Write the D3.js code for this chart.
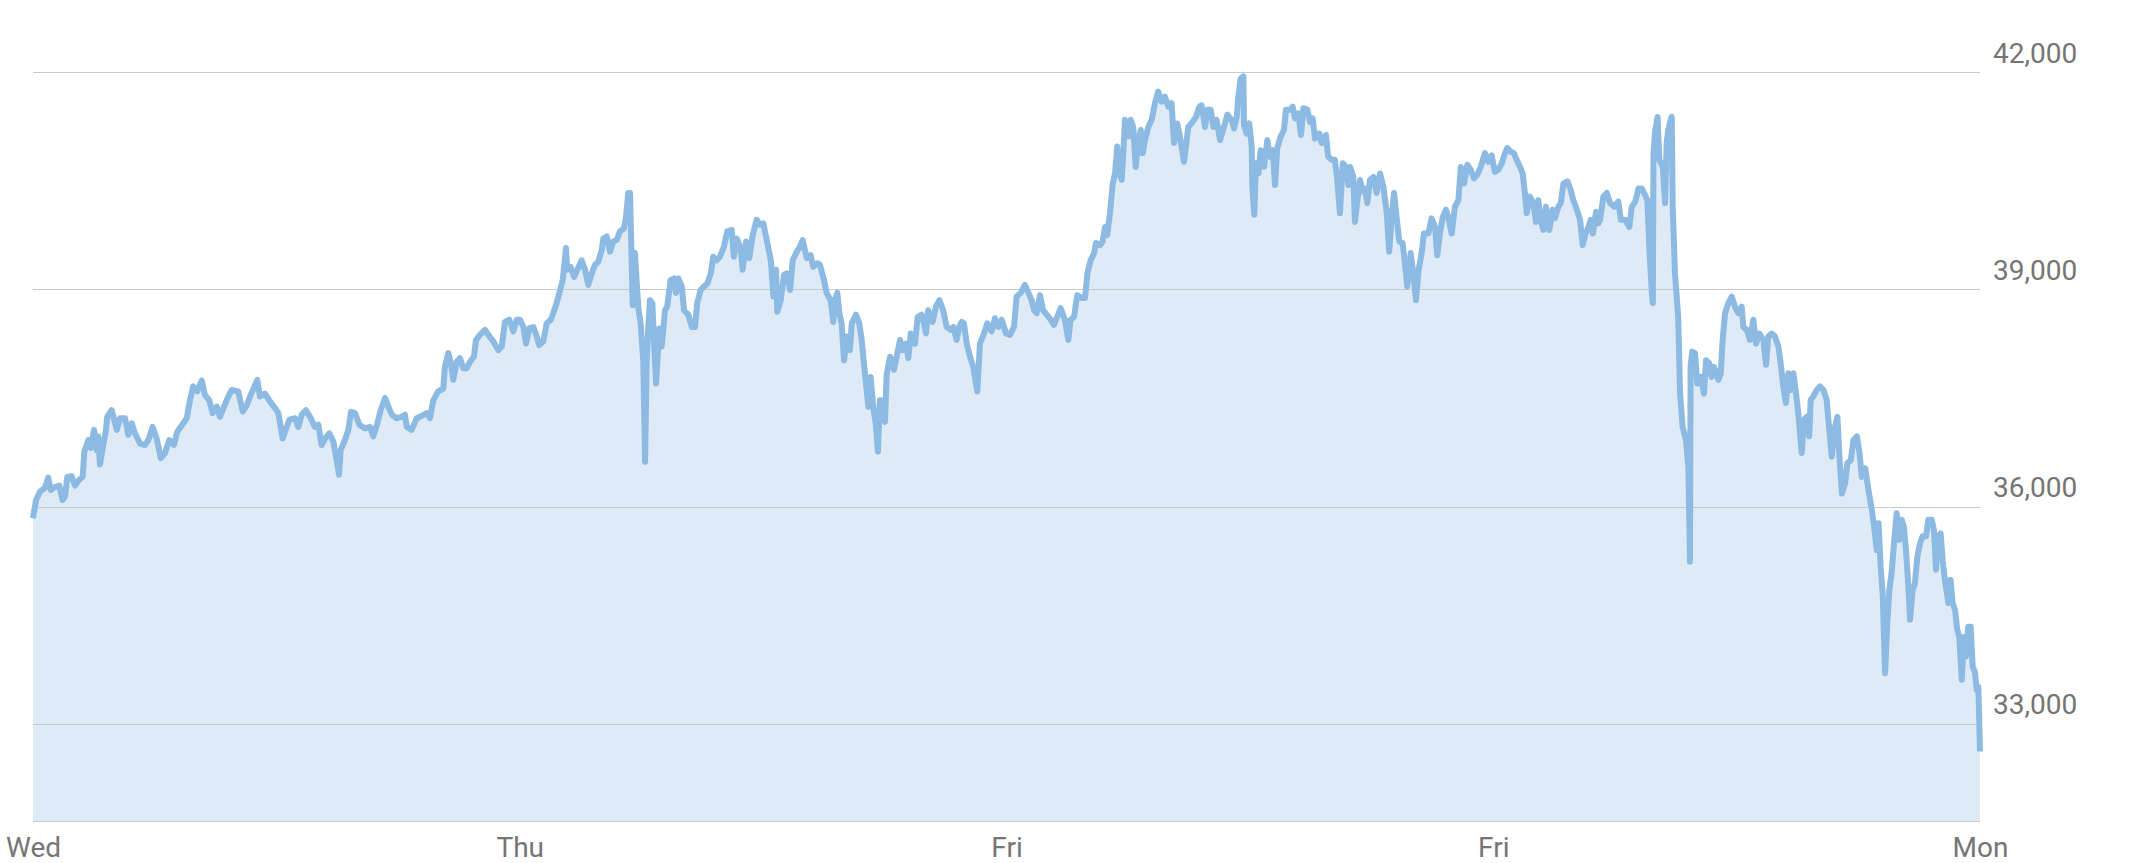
<!DOCTYPE html>
<html>
<head>
<meta charset="utf-8">
<script src="https://cdn.jsdelivr.net/npm/d3@7/dist/d3.min.js"></script>
<style>
  html, body { margin: 0; padding: 0; background: #ffffff; }
  svg { display: block; }
  .tick text { font-family: Roboto, "Noto Sans", sans-serif; }
</style>
</head>
<body>
<svg id="chart" width="2129" height="863"></svg>
<script>
// ---- Data (hours since start of Wed, price) ----
const hours = [
0.00,0.15,0.35,0.59,0.75,0.87,1.08,1.30,1.46,1.58,1.69,1.91,2.07,2.28,2.45,2.53,2.73,2.85,3.01,3.14,3.22,3.30,3.44,3.60,3.66,3.88,4.13,4.29,4.54,4.70,4.87,5.03,5.28,5.52,5.69,5.90,6.10,6.30,6.51,6.72,6.95,7.11,7.41,7.58,7.74,7.90,8.10,8.32,8.48,8.69,8.86,9.06,9.22,9.42,9.63,9.80,10.12,10.34,10.54,10.73,10.95,11.06,11.19,11.44,11.69,11.93,12.10,12.31,12.51,12.64,12.92,13.08,13.25,13.46,13.66,13.90,14.07,14.23,14.40,14.61,14.81,14.97,15.09,15.17,15.38,15.55,15.68,15.88,16.09,16.37,16.62,16.78,16.98,17.14,17.36,17.52,17.69,17.93,18.18,18.34,18.43,18.67,18.92,19.08,
19.41,19.57,19.74,19.98,20.23,20.31,20.48,20.60,20.72,20.89,21.05,21.22,21.38,21.55,21.74,21.84,22.04,22.29,22.45,22.70,22.94,23.11,23.27,23.48,23.68,23.85,24.01,24.18,24.31,24.47,24.67,24.84,24.96,25.16,25.33,25.53,25.65,25.82,25.95,26.12,26.28,26.34,26.51,26.68,26.84,27.05,27.22,27.38,27.55,27.71,27.87,28.04,28.12,28.29,28.45,28.61,28.78,28.94,29.14,29.24,29.35,29.44,29.52,29.57,29.68,29.77,29.85,29.96,30.09,30.18,30.26,30.34,30.42,30.54,30.63,30.72,30.80,30.88,31.00,31.16,31.27,31.44,31.61,31.70,31.82,31.99,32.10,32.31,32.48,32.64,32.75,32.92,33.09,33.25,33.42,33.54,33.71,33.87,34.07,34.23,34.45,34.56,34.70,34.89,34.99,35.16,35.32,35.49,35.68,35.85,36.01,36.18,36.38,36.51,36.64,36.70,36.87,37.03,37.16,37.33,37.46,37.66,37.82,37.95,38.15,38.34,38.47,38.67,38.80,
39.00,39.13,39.33,39.46,39.54,39.66,39.76,39.87,39.99,40.12,40.28,40.37,40.58,40.74,40.86,41.02,41.19,41.30,41.43,41.57,41.66,41.76,41.90,42.01,42.09,42.26,42.45,42.62,42.75,42.88,43.04,43.16,43.28,43.49,43.62,43.82,43.93,44.03,44.14,44.36,44.52,44.69,44.88,45.05,45.25,45.38,45.54,45.67,45.79,45.90,46.04,46.20,46.36,46.56,46.69,46.89,47.05,47.27,47.43,47.60,47.76,47.98,48.17,48.37,48.50,48.70,48.91,49.08,49.24,49.36,49.49,49.65,49.81,49.98,50.18,50.34,50.50,50.67,50.88,51.05,51.16,51.33,51.49,51.71,51.87,51.99,52.15,52.32,52.41,52.61,52.74,52.86,52.97,53.10,53.24,53.35,53.46,53.56,53.68,53.76,53.84,54.01,54.12,54.25,54.37,54.50,54.62,54.72,54.83,54.99,55.16,55.32,55.48,55.65,55.81,55.98,56.14,56.26,56.42,56.55,56.75,56.85,56.96,57.18,57.34,57.51,57.62,57.79,57.90,58.07,58.20,58.36,
58.53,58.72,58.89,59.10,59.22,59.35,59.43,59.55,59.68,59.71,59.84,59.97,60.09,60.12,60.22,60.30,60.42,60.53,60.70,60.86,60.99,61.13,61.24,61.35,61.52,61.68,61.78,61.98,62.11,62.23,62.39,62.52,62.64,62.83,62.97,63.10,63.21,63.42,63.54,63.75,63.86,64.03,64.19,64.31,64.44,64.58,64.74,64.86,64.94,65.10,65.18,65.30,65.43,65.56,65.68,65.79,65.92,66.09,66.25,66.42,66.58,66.75,66.87,66.99,67.11,67.24,67.37,67.53,67.65,67.76,67.93,68.06,68.19,68.32,68.47,68.58,68.80,68.96,69.13,69.24,69.37,69.51,69.67,69.78,69.95,70.11,70.28,70.40,70.56,70.72,70.89,71.05,71.21,71.38,71.59,71.75,71.92,72.08,72.25,72.42,72.58,72.69,72.86,73.02,73.15,73.32,73.45,73.56,73.65,73.81,73.97,74.11,74.22,74.34,74.47,74.60,74.76,74.93,75.04,75.21,75.33,75.46,75.66,75.82,75.95,76.12,76.28,76.41,76.53,76.69,76.81,76.91,77.07,77.18,
77.27,77.43,77.60,77.76,77.96,78.17,78.29,78.50,78.71,78.83,79.00,79.16,79.33,79.49,79.60,79.70,79.82,79.87,79.90,79.98,80.10,80.19,80.36,80.47,80.55,80.63,80.75,80.80,80.85,80.96,81.12,81.21,81.34,81.50,81.62,81.70,81.73,81.81,81.95,82.06,82.23,82.39,82.49,82.65,82.77,82.88,83.10,83.22,83.31,83.43,83.59,83.76,83.92,84.08,84.25,84.33,84.50,84.66,84.82,84.96,85.12,85.32,85.45,85.56,85.73,85.89,86.06,86.17,86.30,86.43,86.55,86.67,86.80,86.93,87.04,87.21,87.32,87.46,87.58,87.65,87.78,87.95,88.11,88.28,88.44,88.57,88.69,88.85,88.97,89.07,89.19,89.35,89.46,89.63,89.76,89.93,90.06,90.17,90.34,
90.50,90.67,90.78,90.91,91.00,91.10,91.20,91.32,91.43,91.53,91.64,91.76,91.89,92.02,92.14,92.25,92.35,92.46,92.55,92.68,92.79,92.91,93.04,93.17,93.34,93.45,93.62,93.73,93.83,93.94,94.06,94.16,94.27,94.44,94.55,94.65,94.77,94.88,94.98,95.10,95.21,95.31,95.42,95.54,95.64,95.75,95.84,95.92,96.00
];
const prices = [
35840,36090,36210,36260,36400,36230,36270,36290,36090,36140,36410,36420,36290,36370,36410,36760,36920,36810,37060,36780,36970,36580,36810,37060,37240,37330,37060,37220,37220,36990,37150,37010,36870,36850,36920,37100,36940,36670,36740,36920,36850,37030,37150,37220,37470,37660,37590,37740,37540,37470,37290,37380,37240,37380,37520,37610,37590,37310,37400,37540,37680,37750,37520,37560,37450,37360,37290,36940,37100,37200,37220,37100,37270,37330,37240,37100,37130,36850,36940,37010,36900,36640,36440,36780,36920,37060,37310,37290,37130,37080,37100,36970,37150,37330,37500,37380,37270,37220,37240,37270,37100,37060,37220,37240,
37290,37220,37470,37590,37630,37930,38120,37980,37750,38000,38050,37910,37910,38000,38070,38300,38370,38440,38370,38280,38160,38210,38550,38580,38420,38580,38580,38480,38250,38460,38480,38350,38230,38280,38530,38580,38670,38810,38950,39130,39570,39270,39310,39170,39270,39400,39270,39060,39220,39340,39380,39540,39700,39730,39520,39660,39680,39800,39840,40000,40330,40330,39360,38780,39500,39080,38740,38530,38020,36620,38020,38480,38850,38810,38210,37700,38070,38460,38210,38710,38760,39130,39150,38950,39150,39040,38710,38650,38480,38480,38810,38990,39040,39080,39220,39450,39400,39450,39590,39800,39820,39450,39700,39570,39270,39660,39430,39750,39960,39890,39910,39680,39400,38900,39270,38690,38850,39200,39220,38990,39400,39520,39590,39680,39430,39470,39310,39360,39340,
39130,38950,38850,38550,38850,38950,38670,38530,38020,38350,38160,38530,38650,38530,38300,37840,37380,37790,37380,37100,36760,37470,37470,37170,37820,38070,37890,38120,38300,38160,38250,38050,38390,38250,38620,38650,38530,38390,38710,38550,38760,38850,38710,38480,38440,38480,38300,38480,38550,38530,38250,38070,37930,37590,38250,38390,38530,38420,38600,38480,38580,38390,38370,38480,38900,38950,39060,38950,38850,38710,38670,38920,38710,38650,38580,38510,38620,38740,38580,38300,38580,38620,38920,38880,38880,39220,39400,39500,39640,39610,39660,39860,39750,40050,40460,40600,40970,40600,40510,40880,41340,41110,41340,41240,40690,41060,41200,40880,41060,41240,41340,41570,41730,41590,41660,41520,41570,41020,41290,41110,40760,40970,41240,41310,41380,41520,41540,41240,41480,41480,41240,41340,
41060,41240,41410,41340,41220,41380,41660,41910,41940,41270,41150,41290,40970,40420,40030,40740,40600,40920,40690,41060,40830,40920,40440,40950,41110,41200,41480,41480,41520,41360,41430,41130,41500,41480,41310,41360,41080,41150,41020,41130,40830,40790,40790,40510,40050,40740,40690,40440,40690,40550,39930,40230,40510,40350,40390,40190,40510,40550,40330,40600,40420,40050,39520,40000,40330,39980,39660,39640,39340,39040,39500,39220,38850,39270,39500,39770,39770,39980,39860,39470,39770,40000,40100,40000,39770,40140,40230,40690,40460,40720,40650,40530,40580,40690,40880,40760,40850,40620,40650,40740,40880,40950,40900,40880,40790,40690,40600,40330,40050,40280,40190,39930,40230,39960,39820,40140,39820,40100,39980,40140,40190,40460,40490,40370,40230,40100,39960,39610,39750,39860,39960,39770,40070,39910,
39960,40280,40330,40190,40140,40210,39960,39960,39860,40140,40210,40390,40390,40300,40230,39540,38950,38810,40880,41180,41380,40790,40690,40190,41020,41200,41340,41380,40140,39220,38620,37560,37100,36920,36550,35240,37930,38140,38120,37700,37790,37560,38020,37980,37790,37930,37750,37840,38300,38670,38810,38900,38760,38670,38760,38480,38440,38300,38580,38250,38390,38300,37960,38350,38390,38350,38210,37980,37660,37430,37840,37610,37840,37560,37290,36740,37200,37240,36970,37470,37520,37610,37660,37610,37470,37060,36690,37100,37240,36690,36180,36320,36600,36640,36920,36970,36740,36410,36530,
36230,35950,35720,35400,35770,35170,34800,33700,34390,34850,35080,35490,35910,35540,35820,35720,35400,34940,34440,34850,34940,35310,35490,35590,35590,35820,35820,35680,35130,35590,35630,35260,34990,34670,34990,34670,34570,34300,34200,33610,34200,33930,34340,34340,33790,33720,33470,33510,32620
];
const yTickValues = [33000, 36000, 39000, 42000];
const xTickHours = [0, 24, 48, 72, 96];
const xTickLabels = ["Wed", "Thu", "Fri", "Fri", "Mon"];

// ---- Layout ----
const svg = d3.select("#chart");
const plotLeft = 33, plotRight = 1980, plotTop = 72, plotBottom = 821;
const yMin = 31660;

const xScale = d3.scaleLinear().domain([0, 96]).range([plotLeft, plotRight]);
const yScale = d3.scaleLinear().domain([yMin, 42000]).range([plotBottom, plotTop]);

const series = hours.map((h, i) => ({ h: h, p: prices[i] }));

// area fill
const areaGen = d3.area()
  .x(d => xScale(d.h))
  .y0(yScale(yMin))
  .y1(d => yScale(d.p));
svg.append("path")
  .datum(series)
  .attr("d", areaGen)
  .attr("fill", "#deebf6");

// gridlines
svg.append("g")
  .selectAll("line")
  .data(yTickValues)
  .join("line")
  .attr("x1", plotLeft)
  .attr("x2", plotRight)
  .attr("y1", d => Math.round(yScale(d)) + 0.5)
  .attr("y2", d => Math.round(yScale(d)) + 0.5)
  .attr("stroke", "#c9c9c9")
  .attr("stroke-width", 1);

// baseline
svg.append("line")
  .attr("x1", plotLeft).attr("x2", plotRight)
  .attr("y1", Math.round(yScale(yMin)) + 0.5).attr("y2", Math.round(yScale(yMin)) + 0.5)
  .attr("stroke", "#c9c9c9").attr("stroke-width", 1);

// line
const lineGen = d3.line()
  .x(d => xScale(d.h))
  .y(d => yScale(d.p));
svg.append("path")
  .datum(series)
  .attr("d", lineGen)
  .attr("fill", "none")
  .attr("stroke", "#8dbae2")
  .attr("stroke-width", 6)
  .attr("stroke-linejoin", "round")
  .attr("stroke-linecap", "butt");

// y axis labels (right)
const yAxis = d3.axisRight(yScale)
  .tickValues(yTickValues)
  .tickFormat(d3.format(","))
  .tickSize(0)
  .tickPadding(13);
const gy = svg.append("g")
  .attr("transform", `translate(${plotRight},0)`)
  .call(yAxis);
gy.select(".domain").remove();
gy.selectAll(".tick text")
  .attr("dy", 0)
  .attr("y", -10)
  .attr("fill", "#757575")
  .style("font-size", "28px");

// x axis labels (bottom)
const xAxis = d3.axisBottom(xScale)
  .tickValues(xTickHours)
  .tickFormat((d, i) => xTickLabels[i])
  .tickSize(0)
  .tickPadding(0);
const gx = svg.append("g")
  .attr("transform", `translate(0,${plotBottom})`)
  .call(xAxis);
gx.select(".domain").remove();
gx.selectAll(".tick text")
  .attr("dy", 0)
  .attr("y", 36)
  .attr("fill", "#757575")
  .style("font-size", "28px");
</script>
</body>
</html>
